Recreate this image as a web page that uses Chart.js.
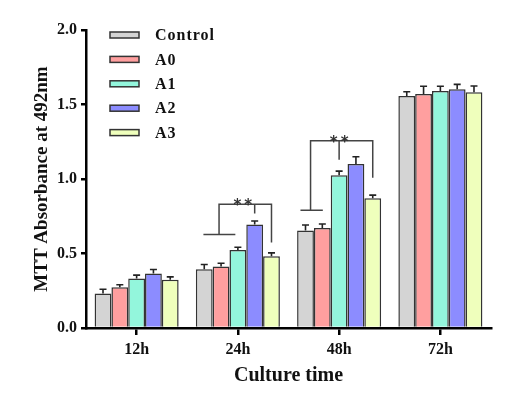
<!DOCTYPE html>
<html><head><meta charset="utf-8">
<script src="https://cdn.jsdelivr.net/npm/chart.js@4/dist/chart.umd.min.js"></script>
<style>html,body{margin:0;padding:0;background:#fff}#wrap{width:519px;height:396px}</style>
</head><body><div id="wrap"><canvas id="c" width="519" height="396"></canvas></div>
<script>
const categories = ['12h', '24h', '48h', '72h'];
const seriesNames = ['Control', 'A0', 'A1', 'A2', 'A3'];
const controlValues = [0.232, 0.395, 0.655, 1.557];
const a0Values = [0.274, 0.413, 0.671, 1.571];
const a1Values = [0.333, 0.524, 1.026, 1.591];
const a2Values = [0.366, 0.694, 1.100, 1.602];
const a3Values = [0.323, 0.482, 0.870, 1.582];
const controlErr = [0.028, 0.031, 0.036, 0.029];
const a0Err = [0.016, 0.022, 0.027, 0.051];
const a1Err = [0.022, 0.018, 0.027, 0.031];
const a2Err = [0.027, 0.024, 0.049, 0.033];
const a3Err = [0.020, 0.022, 0.022, 0.042];
const yTicks = [0, 0.5, 1.0, 1.5, 2.0];
// significance brackets: category index and y values (data units)
const bracketCats = [1, 2];
const bracketLeftY = [0.627, 0.790];
const bracketTopY = [0.830, 1.256];
const bracketMidY = [0.768, 1.129];
const bracketRightY = [0.574, 1.009];
const bracketLabels = ['**', '**'];

const colors = ['#d4d4d4', '#ff9f9f', '#93f6dc', '#8c8cff', '#efffbc'];
const values = [controlValues, a0Values, a1Values, a2Values, a3Values];
const errs = [controlErr, a0Err, a1Err, a2Err, a3Err];

const serif = "'Liberation Serif','Times New Roman',serif";

const datasets = seriesNames.map((n, i) => ({
  label: n, data: values[i], errors: errs[i],
  backgroundColor: colors[i], borderColor: '#333', borderWidth: 1.5,
  borderSkipped: 'bottom', barPercentage: 1.0, categoryPercentage: 0.83
}));

const extras = {
  id: 'extras',
  afterDatasetsDraw(chart) {
    const ctx = chart.ctx, ys = chart.scales.y, xs = chart.scales.x;
    ctx.save();
    // error bars
    ctx.strokeStyle = '#222'; ctx.lineWidth = 1.6;
    chart.data.datasets.forEach((ds, di) => {
      const meta = chart.getDatasetMeta(di);
      meta.data.forEach((bar, j) => {
        const top = ys.getPixelForValue(ds.data[j]);
        const e = ys.getPixelForValue(ds.data[j] + ds.errors[j]);
        ctx.beginPath();
        ctx.moveTo(bar.x, top); ctx.lineTo(bar.x, e);
        ctx.moveTo(bar.x - 3.5, e); ctx.lineTo(bar.x + 3.5, e);
        ctx.stroke();
      });
    });
    // brackets
    const bw = chart.getDatasetMeta(0).data[0].width;
    const layouts = [
      {l0: -2.05, l1: -0.15, v: -1.12, m: 1, r: 2},
      {l0: -2.3, l1: -0.97, v: -1.7, m: 0, r: 2}
    ];
    ctx.strokeStyle = '#444'; ctx.lineWidth = 1.5;
    bracketCats.forEach((c, k) => {
      const cx = xs.getPixelForValue(c), L = layouts[k];
      const X = o => cx + o * bw;
      const yl = ys.getPixelForValue(bracketLeftY[k]);
      const yt = ys.getPixelForValue(bracketTopY[k]);
      const ym = ys.getPixelForValue(bracketMidY[k]);
      const yr = ys.getPixelForValue(bracketRightY[k]);
      ctx.beginPath();
      ctx.moveTo(X(L.l0), yl); ctx.lineTo(X(L.l1), yl);
      ctx.moveTo(X(L.v), yl); ctx.lineTo(X(L.v), yt); ctx.lineTo(X(L.r), yt); ctx.lineTo(X(L.r), yr);
      ctx.moveTo(X(L.m), yt); ctx.lineTo(X(L.m), ym);
      ctx.stroke();
      ctx.fillStyle = '#333';
      ctx.font = "bold 15px 'DejaVu Sans',sans-serif";
      ctx.letterSpacing = '3px';
      ctx.textAlign = 'center'; ctx.textBaseline = 'alphabetic';
      ctx.fillText(bracketLabels[k], (X(L.v) + X(L.r)) / 2 - 1, yt + 6);
      ctx.letterSpacing = '0px';
    });
    // legend
    ctx.font = 'bold 16px ' + serif;
    ctx.textAlign = 'left'; ctx.textBaseline = 'middle';
    chart.data.datasets.forEach((ds, i) => {
      const y = 35 + i * 24.4;
      ctx.fillStyle = ds.backgroundColor;
      ctx.fillRect(110, y - 3, 29, 6);
      ctx.strokeStyle = '#333'; ctx.lineWidth = 1.5;
      ctx.strokeRect(110, y - 3, 29, 6);
      ctx.fillStyle = '#111';
      ctx.letterSpacing = '1px';
      ctx.fillText(ds.label, 155, y + 1);
      ctx.letterSpacing = '0px';
    });
    ctx.restore();
  }
};

new Chart(document.getElementById('c'), {
  type: 'bar',
  data: { labels: categories, datasets },
  options: {
    responsive: false, animation: false,
    layout: { padding: { top: 30, right: 28, bottom: 0, left: 0 } },
    plugins: { legend: { display: false }, tooltip: { enabled: false } },
    scales: {
      x: {
        offset: true,
        grid: { display: true, drawOnChartArea: false, offset: false, drawTicks: true, tickLength: 7, color: '#000', lineWidth: 2.5 },
        border: { display: true, color: '#000', width: 2.5 },
        ticks: { color: '#111', padding: 5, font: { family: serif, size: 16, weight: 'bold' } },
        title: { display: true, text: 'Culture time', color: '#111', font: { family: serif, size: 20, weight: 'bold' }, padding: { top: 0, bottom: 8 } },
        afterFit(s) { s.height = 68; }
      },
      y: {
        min: 0, max: 2.0,
        afterBuildTicks(s) { s.ticks = yTicks.map(v => ({ value: v })); },
        grid: { display: true, drawOnChartArea: false, drawTicks: true, tickLength: 5, color: '#000', lineWidth: 2.5 },
        border: { display: true, color: '#000', width: 2.5 },
        ticks: { color: '#111', padding: 4, font: { family: serif, size: 16, weight: 'bold' }, callback: v => Number(v).toFixed(1) },
        title: { display: true, text: 'MTT Absorbance at 492nm', color: '#111', font: { family: serif, size: 19, weight: 'bold' }, padding: { top: 31, bottom: 0 } },
        afterFit(s) { s.width = 86; }
      }
    }
  },
  plugins: [extras]
});
</script></body></html>
